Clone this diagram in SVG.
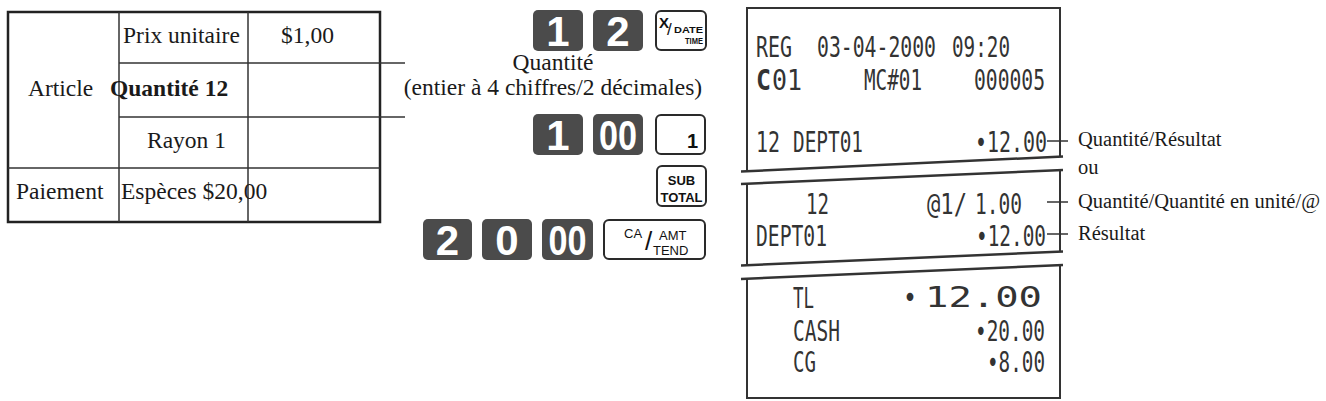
<svg xmlns="http://www.w3.org/2000/svg" width="1326" height="401" viewBox="0 0 1326 401">
<style>
.t{font-family:"Liberation Serif","Times New Roman",serif;font-size:23.5px;fill:#1a1a1a}
.tb{font-weight:bold}
.lbl{font-family:"Liberation Serif","Times New Roman",serif;font-size:20.5px;fill:#1a1a1a}
.grid{stroke:#333;stroke-width:1.5;fill:none}
.outer{stroke:#222;stroke-width:2.5;fill:none}
.dk{fill:#4b4b4b}
.lk{fill:#fff;stroke:#2a2a2a;stroke-width:2}
.kd{font-family:"Liberation Sans",Arial,sans-serif;font-weight:bold;font-size:42px;fill:#fff;text-anchor:middle}
.ks{font-family:"Liberation Sans",Arial,sans-serif;font-weight:bold;fill:#111}
.kn{font-family:"Liberation Sans",Arial,sans-serif;font-weight:normal;fill:#111}
.r{font-family:"DejaVu Sans Mono","Liberation Mono",monospace;font-size:29px;fill:#333}
.rl{stroke:#333;stroke-width:2;fill:none}
.tear{stroke:#333;stroke-width:2.5;fill:none}
.tick{stroke:#333;stroke-width:1.5}
</style>

<g id="table">
  <rect class="outer" x="8" y="12" width="372" height="210"/>
  <line class="grid" x1="119" y1="12" x2="119" y2="222"/>
  <line class="grid" x1="248" y1="12" x2="248" y2="222"/>
  <line class="grid" x1="119" y1="63" x2="380" y2="63"/>
  <line class="grid" x1="119" y1="117" x2="380" y2="117"/>
  <line class="grid" x1="8" y1="168" x2="380" y2="168"/>
  <text class="t" x="123" y="43">Prix unitaire</text>
  <text class="t" x="281" y="43">$1,00</text>
  <text class="t" x="28" y="96">Article</text>
  <text class="t tb" x="110" y="96">Quantité 12</text>
  <text class="t" x="147" y="148">Rayon 1</text>
  <text class="t" x="16" y="199">Paiement</text>
  <text class="t" x="121" y="199">Espèces $20,00</text>
</g>

<g id="annotation-quantite">
  <text class="t" x="553" y="70" text-anchor="middle">Quantité</text>
  <text class="t" x="553" y="95" text-anchor="middle">(entier à 4 chiffres/2 décimales)</text>
</g>

<g id="keys-row1">
  <rect class="dk" x="533" y="10" width="50" height="41" rx="5"/>
  <text class="kd" x="558" y="46">1</text>
  <rect class="dk" x="593" y="10" width="50" height="41" rx="5"/>
  <text class="kd" x="618" y="46">2</text>
  <rect class="lk" x="656" y="11" width="50" height="39" rx="5"/>
  <text class="ks" x="659" y="28" font-size="15">X</text>
  <text class="kn" x="667" y="35" font-size="17">/</text>
  <text class="ks" x="674" y="33" font-size="9.5" textLength="29" lengthAdjust="spacingAndGlyphs">DATE</text>
  <text class="ks" x="685" y="44" font-size="9.5" textLength="18" lengthAdjust="spacingAndGlyphs">TIME</text>
</g>

<g id="keys-row2">
  <rect class="dk" x="533" y="114" width="50" height="41" rx="5"/>
  <text class="kd" x="558" y="150">1</text>
  <rect class="dk" x="593" y="114" width="50" height="41" rx="5"/>
  <text class="kd" x="618" y="150" textLength="38" lengthAdjust="spacingAndGlyphs">00</text>
  <rect class="lk" x="656" y="115" width="49" height="39" rx="5"/>
  <text class="ks" x="698" y="148" font-size="20" text-anchor="end">1</text>
</g>

<g id="key-subtotal">
  <rect class="lk" x="657" y="166" width="49" height="40" rx="5"/>
  <text class="ks" x="681.5" y="185" font-size="13" text-anchor="middle">SUB</text>
  <text class="ks" x="681.5" y="202" font-size="13" text-anchor="middle">TOTAL</text>
</g>

<g id="keys-row3">
  <rect class="dk" x="423" y="219" width="49" height="41" rx="5"/>
  <text class="kd" x="447.5" y="255">2</text>
  <rect class="dk" x="482" y="219" width="50" height="41" rx="5"/>
  <text class="kd" x="507" y="255">0</text>
  <rect class="dk" x="542" y="219" width="51" height="41" rx="5"/>
  <text class="kd" x="567.5" y="255" textLength="38" lengthAdjust="spacingAndGlyphs">00</text>
  <rect class="lk" x="604" y="220" width="101" height="39" rx="5"/>
  <text class="kn" x="624" y="238" font-size="13">CA</text>
  <text class="kn" x="645" y="250" font-size="26">/</text>
  <text class="kn" x="659" y="240" font-size="13">AMT</text>
  <text class="kn" x="653" y="255" font-size="13">TEND</text>
</g>

<g id="receipt-section1">
  <path class="rl" d="M747,171 V8 H1060 V157"/>
  <line class="tear" x1="741" y1="171.5" x2="1063" y2="156.5"/>
  <text class="r" x="756" y="57" textLength="36" lengthAdjust="spacingAndGlyphs">REG</text>
  <text class="r" x="817" y="57" textLength="119" lengthAdjust="spacingAndGlyphs">03-04-2000</text>
  <text class="r" x="952" y="57" textLength="58" lengthAdjust="spacingAndGlyphs">09:20</text>
  <text class="r" x="756" y="90" textLength="15" lengthAdjust="spacingAndGlyphs" font-weight="bold">C</text>
  <text class="r" x="772" y="90" textLength="30" lengthAdjust="spacingAndGlyphs">01</text>
  <text class="r" x="864" y="90" textLength="58" lengthAdjust="spacingAndGlyphs">MC#01</text>
  <text class="r" x="974" y="90" textLength="71" lengthAdjust="spacingAndGlyphs">000005</text>
  <text class="r" x="756" y="152" textLength="24" lengthAdjust="spacingAndGlyphs">12</text>
  <text class="r" x="793" y="152" textLength="70" lengthAdjust="spacingAndGlyphs">DEPT01</text>
  <text class="r" x="975" y="152" textLength="72" lengthAdjust="spacingAndGlyphs">•12.00</text>
</g>

<g id="receipt-section2">
  <path class="rl" d="M747,184 V265 M1060,170 V252"/>
  <line class="tear" x1="741" y1="184" x2="1063" y2="170"/>
  <line class="tear" x1="741" y1="265.5" x2="1063" y2="251.5"/>
  <text class="r" x="806" y="214" textLength="23" lengthAdjust="spacingAndGlyphs">12</text>
  <text class="r" x="927" y="214" textLength="40" lengthAdjust="spacingAndGlyphs">@1/</text>
  <text class="r" x="975" y="214" textLength="47" lengthAdjust="spacingAndGlyphs">1.00</text>
  <text class="r" x="756" y="246" textLength="71" lengthAdjust="spacingAndGlyphs">DEPT01</text>
  <text class="r" x="976" y="246" textLength="70" lengthAdjust="spacingAndGlyphs">•12.00</text>
</g>

<g id="receipt-section3">
  <path class="rl" d="M747,279 V398 H1060 V265"/>
  <line class="tear" x1="741" y1="279" x2="1063" y2="265"/>
  <text class="r" x="793" y="308" textLength="21" lengthAdjust="spacingAndGlyphs">TL</text>
  <text class="r" x="903" y="307" textLength="14" lengthAdjust="spacingAndGlyphs">•</text>
  <text class="r" x="925" y="307" textLength="117" lengthAdjust="spacingAndGlyphs">12.00</text>
  <text class="r" x="793" y="341" textLength="47" lengthAdjust="spacingAndGlyphs">CASH</text>
  <text class="r" x="975" y="341" textLength="70" lengthAdjust="spacingAndGlyphs">•20.00</text>
  <text class="r" x="793" y="372" textLength="23" lengthAdjust="spacingAndGlyphs">CG</text>
  <text class="r" x="987" y="372" textLength="58" lengthAdjust="spacingAndGlyphs">•8.00</text>
</g>

<g id="labels">
  <text class="lbl" x="1078" y="146">Quantité/Résultat</text>
  <text class="lbl" x="1078" y="174">ou</text>
  <text class="lbl" x="1078" y="208">Quantité/Quantité en unité/@</text>
  <text class="lbl" x="1078" y="240">Résultat</text>
</g>

<g id="connectors">
  <line class="grid" x1="380" y1="63" x2="405" y2="63"/>
  <line class="grid" x1="380" y1="117" x2="405" y2="117"/>
  <line class="tick" x1="1047" y1="141" x2="1068" y2="141"/>
  <line class="tick" x1="1047" y1="202" x2="1068" y2="202" stroke="#999"/>
  <line class="tick" x1="1047" y1="234" x2="1068" y2="234"/>
</g>
</svg>
